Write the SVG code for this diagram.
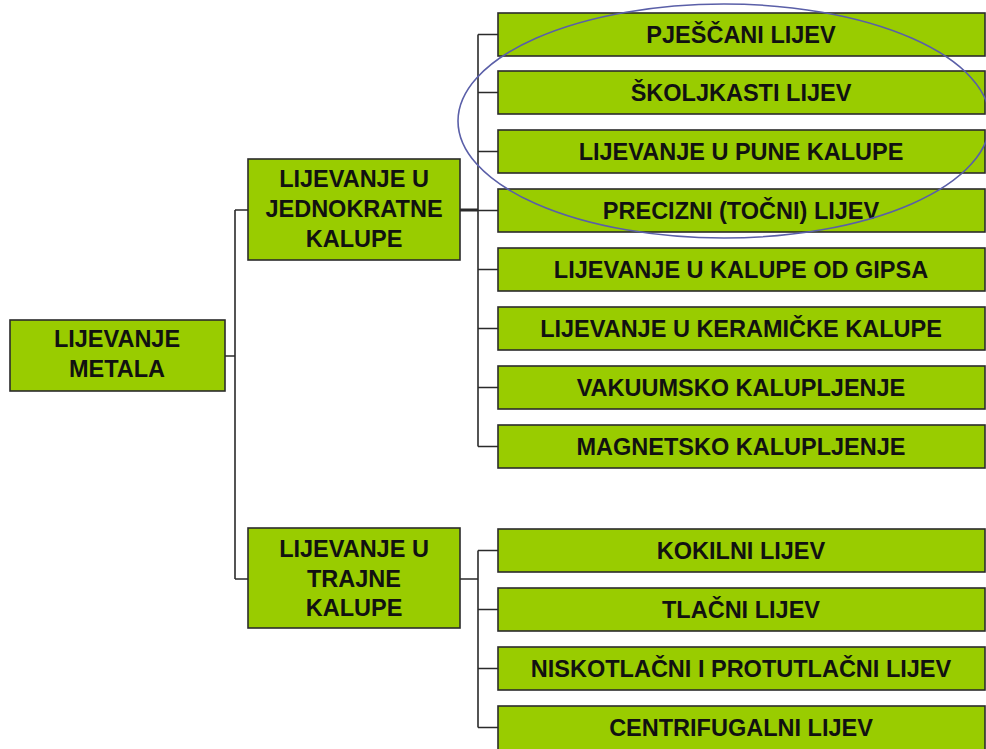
<svg xmlns="http://www.w3.org/2000/svg" width="986" height="749" viewBox="0 0 986 749">
<style>
.box{fill:#99cc00;stroke:#2b2b2b;stroke-width:1.6}
.t{font-family:"Liberation Sans",Arial,sans-serif;font-weight:bold;font-size:23.5px;fill:#111;text-anchor:middle}
.c{fill:none;stroke:#2b2b2b;stroke-width:1.6}
</style>
<rect width="986" height="749" fill="#fff"/>
<g id="connectors">
<path class="c" d="M225,356 H235 M235,210 V579 M235,210 H248 M235,579 H248"/>
<path class="c" d="M460,210 H478" style="stroke-width:3"/>
<path class="c" d="M478,34.5 V446.5 M478,34.5 H498 M478,92.5 H498 M478,151.5 H498 M478,210.5 H498 M478,269.5 H498 M478,328.5 H498 M478,387.5 H498 M478,446.5 H498"/>
<path class="c" d="M460,579 H478 M478,550.5 V727.5 M478,550.5 H498 M478,609.5 H498 M478,668.5 H498 M478,727.5 H498"/>
</g>
<g id="root"><rect class="box" x="10" y="320" width="215" height="71"/>
<text class="t" x="117" y="347">LIJEVANJE</text><text class="t" x="117" y="377">METALA</text></g>
<g id="jednokratne"><rect class="box" x="248" y="159" width="212" height="101"/>
<text class="t" x="354" y="187">LIJEVANJE U</text><text class="t" x="354" y="217">JEDNOKRATNE</text><text class="t" x="354" y="247">KALUPE</text></g>
<g id="trajne"><rect class="box" x="248" y="528" width="212" height="100"/>
<text class="t" x="354" y="557">LIJEVANJE U</text><text class="t" x="354" y="587">TRAJNE</text><text class="t" x="354" y="616">KALUPE</text></g>
<g id="n1"><rect class="box" x="498" y="13" width="487" height="43"/><text class="t" x="741" y="42.5">PJEŠČANI LIJEV</text></g>
<g id="n2"><rect class="box" x="498" y="71" width="487" height="43"/><text class="t" x="741" y="100.5">ŠKOLJKASTI LIJEV</text></g>
<g id="n3"><rect class="box" x="498" y="130" width="487" height="43"/><text class="t" x="741" y="159.5">LIJEVANJE U PUNE KALUPE</text></g>
<g id="n4"><rect class="box" x="498" y="189" width="487" height="43"/><text class="t" x="741" y="218.5">PRECIZNI (TOČNI) LIJEV</text></g>
<g id="n5"><rect class="box" x="498" y="248" width="487" height="43"/><text class="t" x="741" y="277.5">LIJEVANJE U KALUPE OD GIPSA</text></g>
<g id="n6"><rect class="box" x="498" y="307" width="487" height="43"/><text class="t" x="741" y="336.5">LIJEVANJE U KERAMIČKE KALUPE</text></g>
<g id="n7"><rect class="box" x="498" y="366" width="487" height="43"/><text class="t" x="741" y="395.5">VAKUUMSKO KALUPLJENJE</text></g>
<g id="n8"><rect class="box" x="498" y="425" width="487" height="43"/><text class="t" x="741" y="454.5">MAGNETSKO KALUPLJENJE</text></g>
<g id="n9"><rect class="box" x="498" y="529" width="487" height="43"/><text class="t" x="741" y="558.5">KOKILNI LIJEV</text></g>
<g id="n10"><rect class="box" x="498" y="588" width="487" height="43"/><text class="t" x="741" y="617.5">TLAČNI LIJEV</text></g>
<g id="n11"><rect class="box" x="498" y="647" width="487" height="43"/><text class="t" x="741" y="676.5">NISKOTLAČNI I PROTUTLAČNI LIJEV</text></g>
<g id="n12"><rect class="box" x="498" y="706" width="487" height="45"/><text class="t" x="741" y="735.5">CENTRIFUGALNI LIJEV</text></g>
<ellipse id="highlight" cx="724" cy="121" rx="266" ry="117" fill="none" stroke="#5a5fa8" stroke-width="1.6"/>
</svg>
